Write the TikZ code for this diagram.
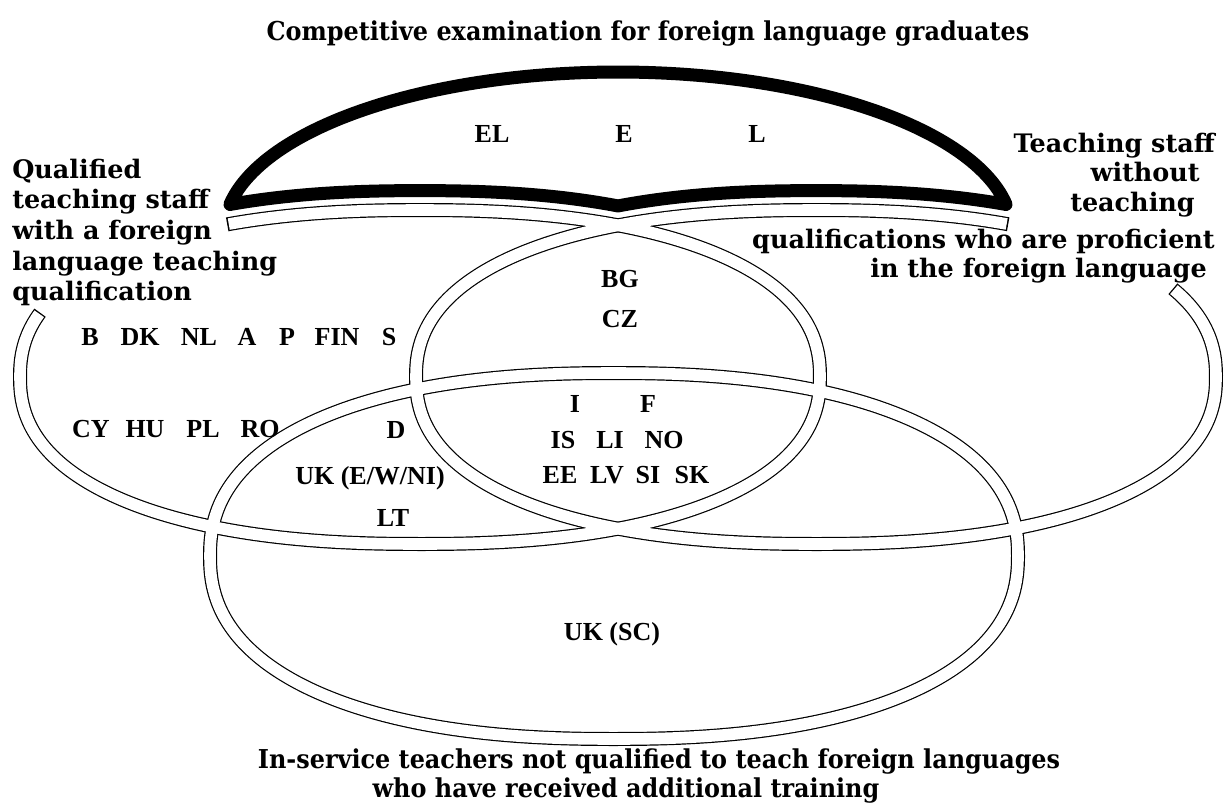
\documentclass[tikz,border=0pt]{standalone}
\usepackage{fontspec}
\setmainfont{DejaVu Serif}
\newfontfamily\labfont{DejaVu Serif}
\newfontfamily\narrowfont{DejaVu Serif}[FakeStretch=0.92]
\newfontfamily\codefont{Liberation Serif}
\begin{document}
\begin{tikzpicture}[x=0.75pt,y=-0.75pt,
  declare function={cs(\t)=cos(\t)*pow(abs(cos(\t))+0.0001,-0.1304);
                    sn(\t)=sin(\t)*pow(abs(sin(\t))+0.0001,-0.1304);},
  rib/.style={line width=10.5pt, draw=black, line cap=butt},
  ribw/.style={line width=8.7pt, draw=white, line cap=butt},
  lens/.style={line width=9.75pt, line join=round, draw=black},
  code/.style={font=\codefont\bfseries\fontsize{19.5pt}{21pt}\selectfont, inner sep=0pt, anchor=base},
  lab/.style={font=\labfont\bfseries\fontsize{19.1pt}{23pt}\selectfont, inner sep=0pt},
  big/.style={font=\narrowfont\bfseries\fontsize{19.5pt}{23pt}\selectfont, inner sep=0pt}]
\fill[white] (0,0) rectangle (1227,804);
\useasboundingbox (0,0) rectangle (1227,804);
% black outlines of the ribbons
\draw[rib] plot[domain=160.5:475.6, samples=400, variable=\t] ({420+400*cs(\t)},{377-167*sn(\t)});
\draw[rib] plot[domain=64.5:388.7, samples=400, variable=\t] ({816+400*cs(\t)},{377-167*sn(\t)});
\draw[rib] plot[domain=0:360, samples=400, variable=\t] ({614+404*cs(\t)},{556-183*sn(\t)}) -- cycle;
% white interiors
\draw[ribw] plot[domain=160.9:475.35, samples=400, variable=\t] ({420+400*cs(\t)},{377-167*sn(\t)});
\draw[ribw] plot[domain=64.75:388.35, samples=400, variable=\t] ({816+400*cs(\t)},{377-167*sn(\t)});
\draw[ribw] plot[domain=0:360, samples=400, variable=\t] ({614+404*cs(\t)},{556-183*sn(\t)}) -- cycle;
% thick lens
\draw[lens] plot[domain=170:10, samples=120, variable=\t] ({618+394*cos(\t)},{232-160*sin(\t)})
  -- plot[domain=64.86:116.46, samples=80, variable=\t] ({816+400*cs(\t)},{357.6-167*sn(\t)})
  -- plot[domain=63.54:115.14, samples=80, variable=\t] ({420+400*cs(\t)},{357.6-167*sn(\t)}) -- cycle;
% labels
\node[big, anchor=base] (title) at (648,40) {Competitive examination for foreign language graduates};
\node[lab, anchor=base west] (q1) at (12,178) {Qualified};
\node[lab, anchor=base west] (q2) at (12,208) {teaching staff};
\node[lab, anchor=base west] (q3) at (12,239) {with a foreign};
\node[lab, anchor=base west] (q4) at (12,270) {language teaching};
\node[lab, anchor=base west] (q5) at (12,300) {qualification};
\node[lab, anchor=base east] (t1) at (1215,152) {Teaching staff};
\node[lab, anchor=base east] (t2) at (1200,181) {without};
\node[lab, anchor=base east] (t3) at (1195,211) {teaching};
\node[lab, anchor=base east] (t4) at (1215,248) {qualifications who are proficient};
\node[lab, anchor=base east] (t5) at (1207,277) {in the foreign language};
\node[big, anchor=base] (b1) at (659,768) {In-service teachers not qualified to teach foreign languages};
\node[big, anchor=base] (b2) at (626,797) {who have received additional training};
% country codes
\node[code] (el) at (492,142) {EL};
\node[code] (e) at (624,142) {E};
\node[code] (l) at (757,142) {L};
\node[code] (b) at (90,345) {B};
\node[code] (dk) at (140,345) {DK};
\node[code] (nl) at (199,345) {NL};
\node[code] (a) at (247,345) {A};
\node[code] (p) at (287,345) {P};
\node[code] (fin) at (337,345) {FIN};
\node[code] (s) at (389,345) {S};
\node[code] (cy) at (91,437) {CY};
\node[code] (hu) at (145,437) {HU};
\node[code] (pl) at (203,437) {PL};
\node[code] (ro) at (260,437) {RO};
\node[code] (d) at (396,438) {D};
\node[code] (ukew) at (370,484) {UK (E/W/NI)};
\node[code] (lt) at (393,526) {LT};
\node[code] (bg) at (620,287) {BG};
\node[code] (cz) at (620,327) {CZ};
\node[code] (i) at (575,412) {I};
\node[code] (f) at (648,412) {F};
\node[code] (is) at (563,448) {IS};
\node[code] (li) at (610,448) {LI};
\node[code] (no) at (664,448) {NO};
\node[code] (ee) at (560,483) {EE};
\node[code] (lv) at (607,483) {LV};
\node[code] (si) at (648,483) {SI};
\node[code] (sk) at (692,483) {SK};
\node[code] (uksc) at (612,640) {UK (SC)};
\end{tikzpicture}
\end{document}
